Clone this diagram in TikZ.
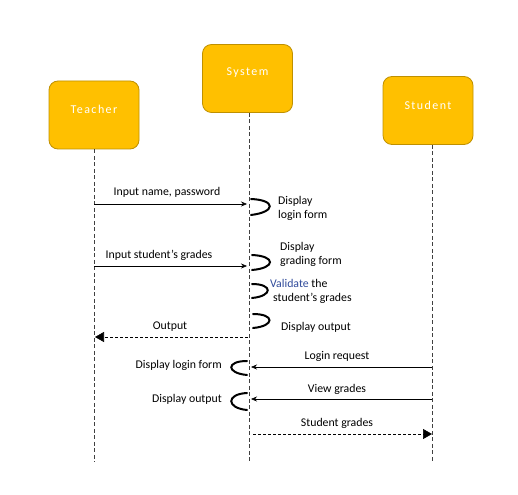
\documentclass[tikz,border=0pt]{standalone}
\usepackage{fontspec}
\setmainfont{Carlito}
\usetikzlibrary{arrows.meta}
\definecolor{boxfill}{HTML}{FFC000}
\definecolor{boxline}{HTML}{BF9000}
\begin{document}
\begin{tikzpicture}[x=1pt,y=-1pt,
  actor/.style={draw=boxline,fill=boxfill,rounded corners=9pt,minimum width=90pt,minimum height=68pt,inner sep=0pt,line width=0.8pt},
  actortxt/.style={text=white,font=\fontsize{12}{14}\selectfont\addfontfeatures{LetterSpace=12}},
  life/.style={dashed,dash pattern=on 4pt off 2.5pt,line width=0.6pt,draw=black!75},
  msg/.style={line width=0.6pt,-{Stealth[length=6pt,width=5pt]}},
  rmsg/.style={line width=0.6pt,dashed,dash pattern=on 3pt off 2pt,-{Triangle[length=9pt,width=10pt]}},
  lbl/.style={font=\fontsize{11.8}{14}\selectfont,inner sep=0pt},
  selfloop/.style={line width=2pt,line cap=round}]
\useasboundingbox (0,0) rectangle (518,494);
% actors
\node[actor] (teacher) at (94,115) {};
\node[actortxt] (teachertxt) at (94,109) {Teacher};
\node[actor] (system) at (247.5,78.5) {};
\node[actortxt] (systemtxt) at (247.5,73) {System};
\node[actor] (student) at (428,110.5) {};
\node[actortxt] (studenttxt) at (428,105) {Student};
% lifeline ends
\coordinate (tend) at (94,462);
\coordinate (send) at (249,462);
\coordinate (uend) at (432,462);
\draw[life] (teacher.south) -- (tend);
\draw[life] (system.south -| send) -- (send);
\draw[life] (student.south -| uend) -- (uend);
% message anchor points
\coordinate (t1) at (94,204);  \coordinate (s1) at (247,204);
\coordinate (t2) at (94,266);  \coordinate (s2) at (247,266);
\coordinate (s3) at (248,337); \coordinate (t3) at (95,337);
\coordinate (u4) at (432,367); \coordinate (s4) at (251,367);
\coordinate (u5) at (432,399); \coordinate (s5) at (251,399);
\coordinate (s6) at (253,434); \coordinate (u6) at (432,434);
% messages
\draw[msg] (t1) -- (s1);
\node[lbl] (m1) at (167,192) {Input name, password};
\draw[msg] (t2) -- (s2);
\node[lbl] (m2) at (159,255) {Input student’s grades};
\draw[rmsg] (s3) -- (t3);
\node[lbl] (m3) at (170,327) {Output};
\draw[msg] (u4) -- (s4);
\node[lbl] (m4) at (337,356) {Login request};
\draw[msg] (u5) -- (s5);
\node[lbl] (m5) at (337,389) {View grades};
\draw[rmsg] (s6) -- (u6);
\node[lbl] (m6) at (337,423) {Student grades};
% self loops (right side)
\coordinate (a1) at (251,199); \coordinate (b1) at (251,215);
\draw[selfloop] (a1) .. controls (276,200) and (276,212) .. (b1);
\node[lbl,align=left,anchor=west] (l1) at (278,208) {Display\\login form};
\coordinate (a2) at (252,255); \coordinate (b2) at (252,270);
\draw[selfloop] (a2) .. controls (276,256) and (276,268) .. (b2);
\node[lbl,align=left,anchor=west] (l2) at (280,254) {Display\\grading form};
\coordinate (a3) at (252,284); \coordinate (b3) at (252,298);
\draw[selfloop] (a3) .. controls (273,284) and (273,296) .. (b3);
\node[lbl,align=left,anchor=west] (l3) at (270,291) {{\color[HTML]{2F4A9A}Validate} the\\\hspace*{3pt}student’s grades};
\coordinate (a4) at (253,314); \coordinate (b4) at (253,328);
\draw[selfloop] (a4) .. controls (275,314) and (275,326) .. (b4);
\node[lbl,anchor=west] (l4) at (281,327) {Display output};
% self loops (left side)
\coordinate (a5) at (247,361); \coordinate (b5) at (247,375);
\draw[selfloop] (a5) .. controls (226,361) and (226,373) .. (b5);
\node[lbl,anchor=east] (l5) at (222,365) {Display login form};
\coordinate (a6) at (247,393); \coordinate (b6) at (247,410);
\draw[selfloop] (a6) .. controls (226,394) and (226,408) .. (b6);
\node[lbl,anchor=east] (l6) at (222,399) {Display output};
\end{tikzpicture}
\end{document}
